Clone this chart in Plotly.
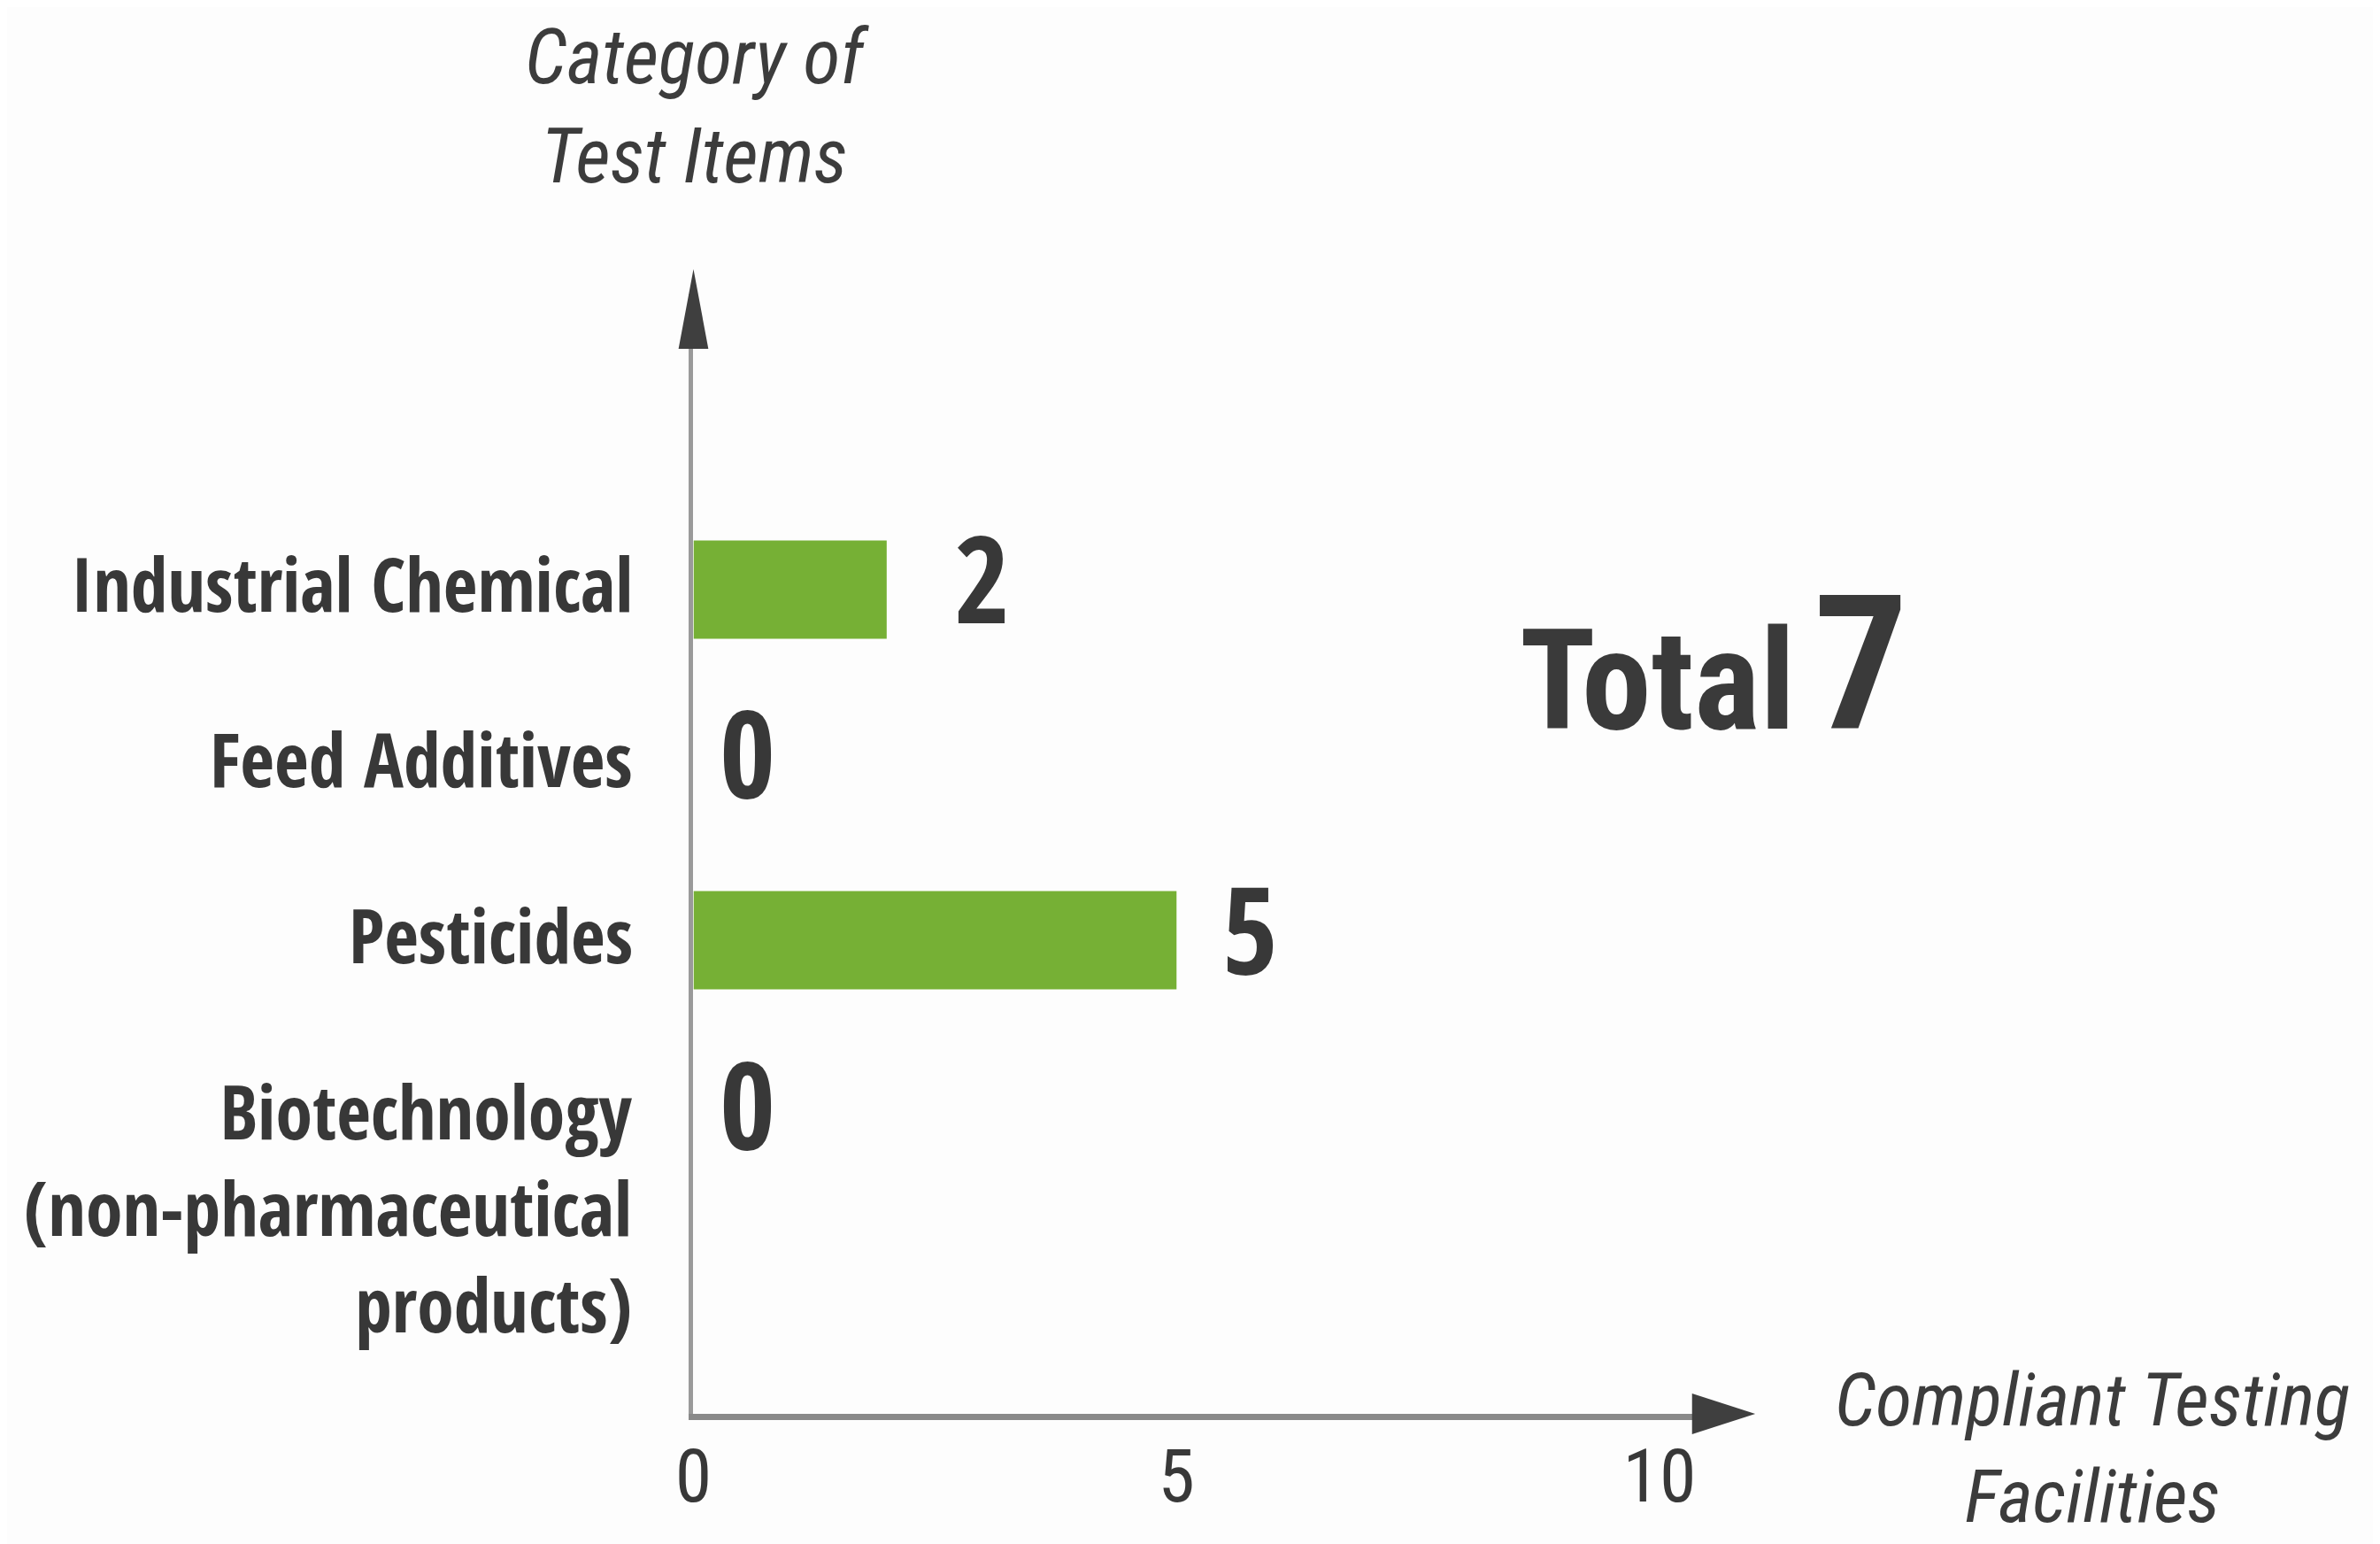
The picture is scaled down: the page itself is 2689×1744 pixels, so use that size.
import plotly.graph_objects as go

# ---- data ----
categories = ["Industrial Chemical", "Feed Additives", "Pesticides",
              "Biotechnology<br>(non-pharmaceutical<br>products)"]
facilities = [2, 0, 5, 0]
x_ticks = [0, 5, 10]
total_label = "Total"
total_value = sum(facilities)
y_title = "Category of<br>Test Items"
x_title = "Compliant Testing<br>Facilities"

# ---- layout helpers (reference pixel coordinates -> paper) ----
W, H = 2689, 1744
DX, DY = 17, 6          # page offset compensation
def px(x):
    return (x - DX) / W
def py(y):
    return 1 - (y - DY) / H

AX_X0 = 778             # y-axis position (px)
AX_Y0 = 1595            # x-axis position (px)
UNIT = 110.1            # px per facility
CAT0, CAT_STEP = 664, 198

LABEL_FONT = "Open Sans Condensed"
TEXT = "#383838"

# per-label fine offsets for the value labels (layout only)
value_label_dx = [74, 28, 50, 28]

fig = go.Figure()
fig.add_trace(go.Bar(
    x=facilities, y=categories, orientation="h",
    marker=dict(color="#76b035", line=dict(width=0)),
    hoverinfo="x+y", showlegend=False,
))

fig.update_layout(
    width=W, height=H,
    margin=dict(l=0, r=0, t=0, b=0),
    paper_bgcolor="#fdfdfd", plot_bgcolor="rgba(0,0,0,0)",
    bargap=0.44,
    xaxis=dict(
        domain=[px(AX_X0), px(1918)], range=[0, (1918 - AX_X0) / UNIT],
        tickvals=x_ticks, ticktext=[str(v) for v in x_ticks],
        showgrid=False, zeroline=False,
        showline=True, linecolor="#8a8a8a", linewidth=7,
        ticks="", ticklabelstandoff=-9,
        tickfont=dict(family="Roboto Condensed", size=84, color=TEXT),
        fixedrange=True,
    ),
    yaxis=dict(
        domain=[py(AX_Y0), py(330)],
        type="category", categoryorder="array", categoryarray=categories,
        range=[(AX_Y0 - CAT0) / CAT_STEP, (330 - CAT0) / CAT_STEP],
        showgrid=False, zeroline=False, showticklabels=False,
        showline=True, linecolor="#9a9a9a", linewidth=5,
        fixedrange=True,
    ),
)

# category labels (right aligned next to the axis)
for cat in categories:
    multiline = "<br>" in cat
    fig.add_annotation(
        x=px(AX_X0), xref="paper", y=cat, yref="y",
        xanchor="right", yanchor="top" if multiline else "middle",
        xshift=-66, yshift=(58 + 7) if multiline else 7,
        text=cat, showarrow=False, align="right",
        font=dict(family=LABEL_FONT, size=84, color=TEXT),
    )

# value labels
for cat, v, dx in zip(categories, facilities, value_label_dx):
    fig.add_annotation(
        x=v, xref="x", y=cat, yref="y",
        xanchor="left", yanchor="middle", xshift=dx, yshift=14,
        text=str(v), showarrow=False,
        font=dict(family=LABEL_FONT, size=136, color=TEXT),
    )

# total
fig.add_annotation(
    x=px(1718), xref="paper", y=py(748), yref="paper",
    xanchor="left", yanchor="middle",
    text=(f"<b>{total_label}</b><span style='font-size:90px'> </span>"
          f"<span style='font-size:212px'><b>{total_value}</b></span>"),
    showarrow=False,
    font=dict(family="Roboto Condensed", size=158, color="#3a3a3a"),
)

# axis titles
fig.add_annotation(
    x=px(782), xref="paper", y=py(118), yref="paper",
    xanchor="center", yanchor="middle", text=y_title, showarrow=False,
    font=dict(family="Roboto Condensed", size=86, color="#3c3c3c", style="italic"),
)
fig.add_annotation(
    x=px(2372), xref="paper", y=py(1634), yref="paper",
    xanchor="center", yanchor="middle", text=x_title, showarrow=False,
    font=dict(family="Roboto Condensed", size=84, color="#3c3c3c", style="italic"),
)

# arrow heads
ARROW = "#3f3f3f"
up = f"M {px(AX_X0)},{py(302)} L {px(AX_X0 - 17)},{py(392)} L {px(AX_X0 + 17)},{py(392)} Z"
right = f"M {px(1988)},{py(AX_Y0)} L {px(1916)},{py(AX_Y0 - 23)} L {px(1916)},{py(AX_Y0 + 23)} Z"
for path in (up, right):
    fig.add_shape(type="path", path=path, xref="paper", yref="paper",
                  fillcolor=ARROW, line=dict(width=0))

fig.write_html("out.html")
